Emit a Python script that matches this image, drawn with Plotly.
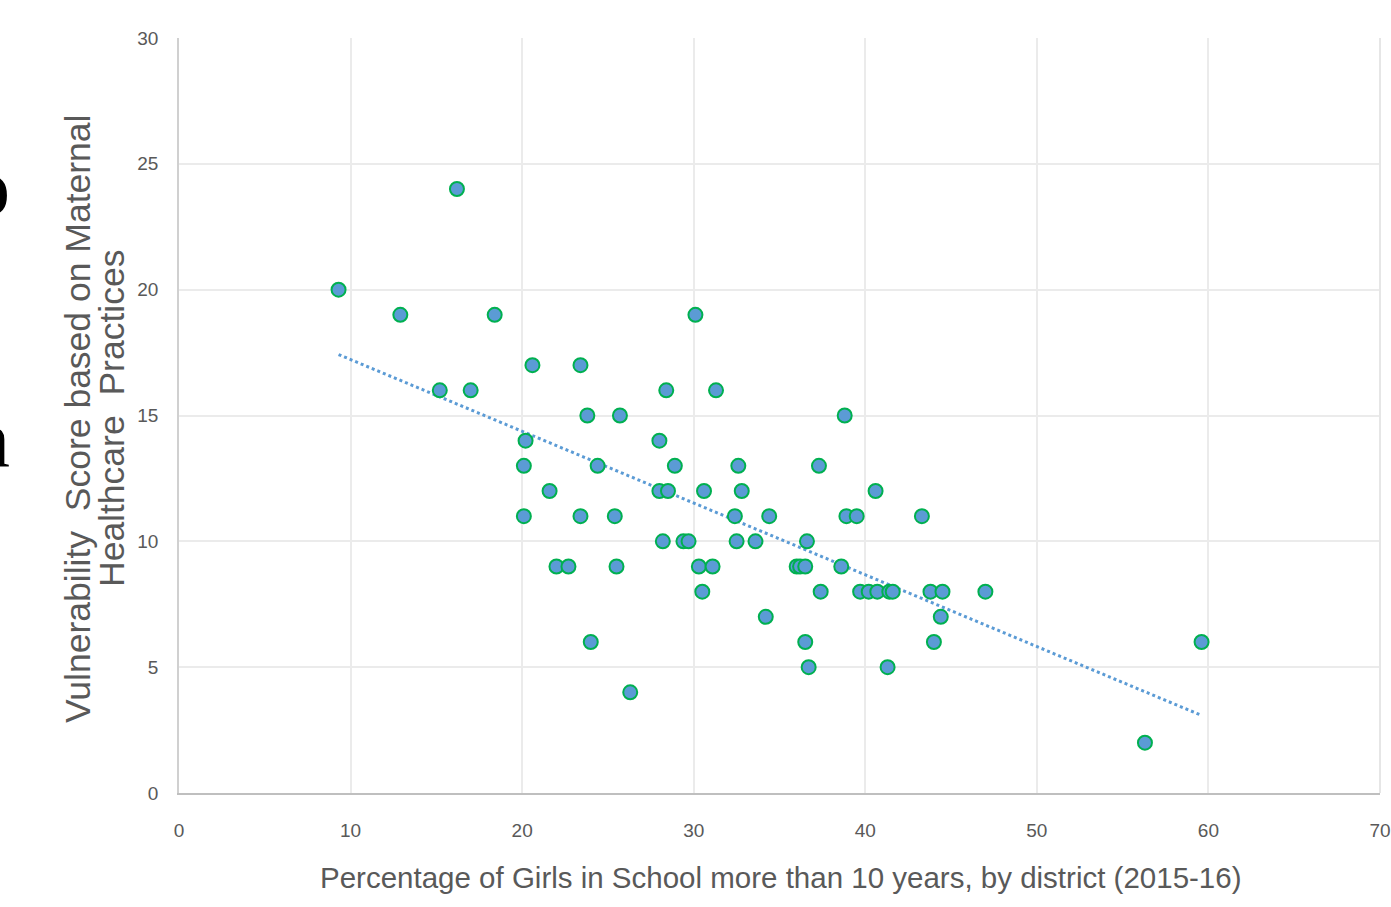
import numpy as np
import plotly.graph_objects as go

# Percentage of girls in school >10 years (x) and vulnerability score (y)
girls_pct = [9.3, 12.9, 16.2, 15.2, 17.0, 18.4, 20.6, 20.2, 20.1, 20.1, 21.6, 22.0, 22.7,
             23.4, 23.4, 23.8, 24.4, 24.0, 25.4, 25.5, 25.7, 26.3, 28.0, 28.0, 28.5, 28.2,
             28.4, 28.9, 29.4, 29.7, 30.1, 30.3, 30.5, 30.6, 31.1, 31.3, 32.4, 32.5, 32.6,
             32.8, 33.6, 34.2, 34.4, 38.8, 37.3, 40.6, 38.9, 39.5, 43.3, 36.6, 36.0, 36.2,
             36.5, 38.6, 37.4, 39.7, 40.2, 40.7, 41.4, 41.6, 43.8, 44.5, 47.0, 44.4, 36.5,
             44.0, 36.7, 41.3, 56.3, 59.6]
vuln_score = [20, 19, 24, 16, 16, 19, 17, 14, 13, 11, 12, 9, 9,
              17, 11, 15, 13, 6, 11, 9, 15, 4, 14, 12, 12, 10,
              16, 13, 10, 10, 19, 9, 8, 12, 9, 16, 11, 10, 13,
              12, 10, 7, 11, 15, 13, 12, 11, 11, 11, 10, 9, 9,
              9, 9, 8, 8, 8, 8, 8, 8, 8, 8, 8, 7, 6,
              6, 5, 5, 2, 6]

x_ticks = [0, 10, 20, 30, 40, 50, 60, 70]
y_ticks = [0, 5, 10, 15, 20, 25, 30]

x_title = "Percentage of Girls in School more than 10 years, by district (2015-16)"
y_title_lines = ["Vulnerability  Score based on Maternal", "Healthcare  Practices"]

# Linear trendline (least squares), drawn across the data range
slope, intercept = np.polyfit(girls_pct, vuln_score, 1)
trend_x = [min(girls_pct), max(girls_pct)]
trend_y = [slope * v + intercept for v in trend_x]

W, H = 1391, 907
L, R, T, B = 179, 11, 38, 114
PW, PH = W - L - R, H - T - B


def px_x(p):
    return (p - L) / PW


def px_y(p):
    return (H - B - p) / PH


grey = "#595959"
fig = go.Figure()
fig.add_trace(go.Scatter(
    x=trend_x, y=trend_y, mode="lines",
    line=dict(color="#5B9BD5", width=3, dash="dot"),
    hoverinfo="skip", showlegend=False))
fig.add_trace(go.Scatter(
    x=girls_pct, y=vuln_score, mode="markers",
    marker=dict(size=14, color="#5B9BD5", line=dict(color="#00B050", width=2)),
    showlegend=False))

fig.update_layout(
    width=W, height=H,
    margin=dict(l=L, r=R, t=T, b=B, autoexpand=False),
    paper_bgcolor="white", plot_bgcolor="white",
    font=dict(family="Liberation Sans, Arial, sans-serif", color=grey),
)
fig.update_xaxes(
    range=[0, 70], tickvals=x_ticks, ticktext=[str(v) for v in x_ticks],
    showgrid=True, gridcolor="#EBEBEB", gridwidth=1.5,
    showline=True, linecolor="#BFBFBF", linewidth=2,
    zeroline=False, ticks="", ticklabelstandoff=19, automargin=False,
    tickfont=dict(size=19, color=grey),
)
fig.update_yaxes(
    range=[0, 30], tickvals=y_ticks, ticktext=[str(v) for v in y_ticks],
    showgrid=True, gridcolor="#EBEBEB", gridwidth=1.5,
    showline=True, linecolor="#D0D0D0", linewidth=1.5,
    zeroline=False, ticks="", ticklabelstandoff=15, automargin=False,
    tickfont=dict(size=19, color=grey),
)
# right border line of plot area
fig.add_shape(type="line", xref="paper", yref="paper", x0=1, x1=1, y0=0, y1=1,
              line=dict(color="#E6E6E6", width=2))

# axis titles
fig.add_annotation(text=x_title, xref="paper", yref="paper", x=px_x(781), y=px_y(878),
                   xanchor="center", yanchor="middle", showarrow=False,
                   font=dict(size=29.5, color=grey))
fig.add_annotation(text=y_title_lines[0], xref="paper", yref="paper", x=px_x(78), y=px_y(419),
                   xanchor="center", yanchor="middle", textangle=-90, showarrow=False,
                   font=dict(size=35.5, color=grey))
fig.add_annotation(text=y_title_lines[1], xref="paper", yref="paper", x=px_x(112), y=px_y(419),
                   xanchor="center", yanchor="middle", textangle=-90, showarrow=False,
                   font=dict(size=35.5, color=grey))

# partially visible serif glyphs on the left edge
fig.add_annotation(text="o", xref="paper", yref="paper", x=px_x(12), y=px_y(187),
                   xanchor="right", yanchor="middle", showarrow=False,
                   font=dict(family="Liberation Serif, serif", size=80, color="black"))
fig.add_annotation(text="n", xref="paper", yref="paper", x=px_x(12), y=px_y(439),
                   xanchor="right", yanchor="middle", showarrow=False,
                   font=dict(family="Liberation Serif, serif", size=80, color="black"))

fig.write_html(
    "out.html",
    config={"displayModeBar": False},
    post_script="document.body.style.margin='0';document.body.style.overflow='hidden';",
)
